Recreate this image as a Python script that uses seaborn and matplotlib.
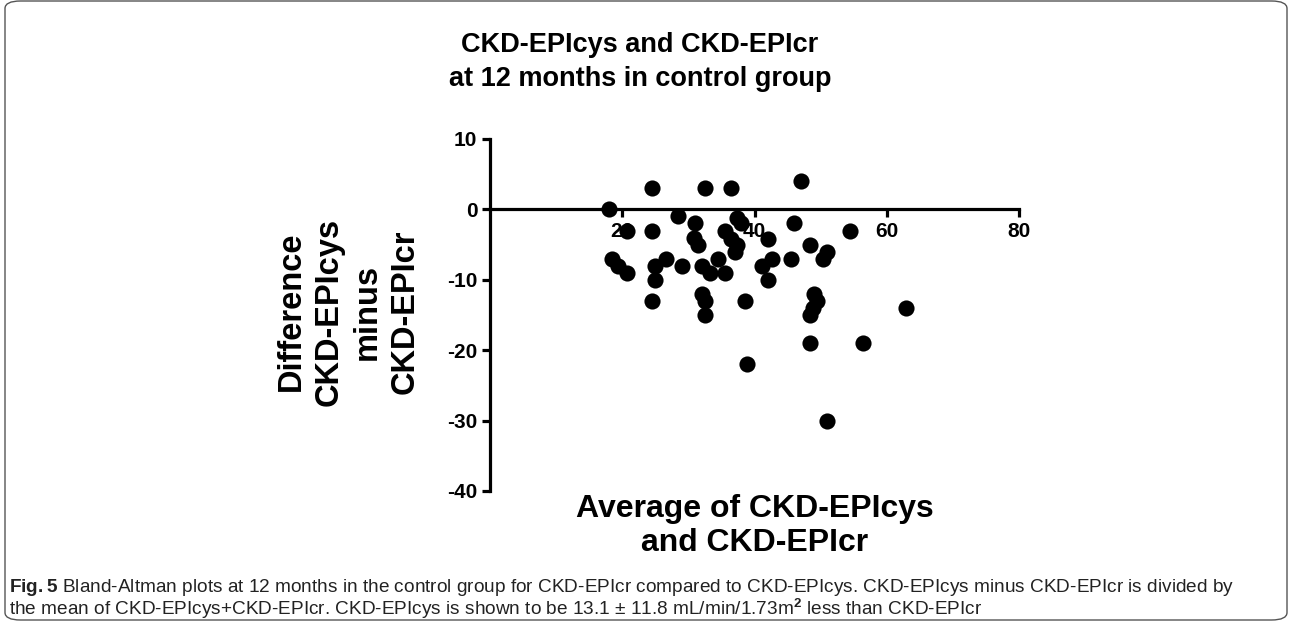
# Bland-Altman scatter: CKD-EPIcys vs CKD-EPIcr at 12 months, control group
import matplotlib
matplotlib.use("Agg")
import pandas as pd
import seaborn as sns
import matplotlib.pyplot as plt
from matplotlib.patches import FancyBboxPatch

# values
avg_values = [18.0, 24.5, 32.5, 36.5, 47.0, 28.5, 31.0, 37.3, 38.0, 46.0,
              20.7, 24.5, 35.5, 54.4, 30.9, 36.5, 42.1, 31.5, 37.3, 48.4,
              37.0, 50.9, 18.4, 26.6, 34.5, 42.6, 45.5, 50.4, 19.4, 24.9,
              29.0, 32.0, 41.1, 20.7, 33.3, 35.5, 24.9, 42.1, 24.5, 32.0,
              32.5, 38.5, 49.0, 49.4, 48.9, 48.4, 32.5, 62.9, 48.4, 56.4,
              38.8, 50.9]
diff_values = [0, 3, 3, 3, 4, -1, -2, -1.2, -2, -2,
               -3, -3, -3, -3, -4, -4.2, -4.2, -5, -5, -5,
               -6, -6, -7, -7, -7, -7, -7, -7, -8, -8,
               -8, -8, -8, -9, -9, -9, -10, -10, -13, -12,
               -13, -13, -12, -13, -14, -15, -15, -14, -19, -19,
               -22, -30]
x_ticks = [20, 40, 60, 80]
y_ticks = [10, 0, -10, -20, -30, -40]

df = pd.DataFrame({"avg": avg_values, "diff": diff_values})

sns.set_style("ticks")
plt.rcParams["font.family"] = ["Liberation Sans", "DejaVu Sans"]
plt.rcParams["axes.unicode_minus"] = False
plt.rcParams["mathtext.fontset"] = "custom"
plt.rcParams["mathtext.rm"] = "Liberation Sans"
plt.rcParams["mathtext.bf"] = "Liberation Sans:bold"
plt.rcParams["text.color"] = "black"
plt.rcParams["axes.labelcolor"] = "black"
plt.rcParams["xtick.color"] = "black"
plt.rcParams["ytick.color"] = "black"

fig = plt.figure(figsize=(12.93, 6.24), dpi=100)
ax = fig.add_axes([490 / 1293, 1 - 491 / 624, 529 / 1293, 352 / 624])

sns.scatterplot(data=df, x="avg", y="diff", color="black", s=135,
                edgecolor="black", linewidth=0, zorder=3, ax=ax)

# x axis sits at y = 0 (do this before styling ticks, it resets them)
ax.spines["bottom"].set_position(("data", 0))
ax.spines["top"].set_visible(False)
ax.spines["right"].set_visible(False)
for s in ["left", "bottom"]:
    ax.spines[s].set_linewidth(2.3)
    ax.spines[s].set_color("black")

ax.set_xlim(0, 80)
ax.set_ylim(-40, 10)
ax.set_xticks(x_ticks)
ax.set_yticks(y_ticks)
ax.set_xticklabels([str(t) for t in x_ticks], fontsize=15, fontweight="bold")
ax.set_yticklabels([str(t) for t in y_ticks], fontsize=15, fontweight="bold")
ax.tick_params(axis="both", length=6, width=2.3, color="black", pad=3)

ax.set_xlabel("Average of CKD-EPIcys\nand CKD-EPIcr", fontsize=23,
              fontweight="bold", linespacing=1.15)
ax.xaxis.set_label_coords(0.5, -0.1)
ax.xaxis.label.set_va("center")

ax.set_ylabel("Difference\nCKD-EPIcys\nminus\nCKD-EPIcr", fontsize=23.5,
              fontweight="bold", linespacing=1.3)
ax.yaxis.set_label_coords(-0.268, 0.51)
ax.yaxis.label.set_va("center")

# title
fig.text(640 / 1293, 1 - 62 / 624, "CKD-EPIcys and CKD-EPIcr\nat 12 months in control group",
         ha="center", va="center", fontsize=19.5, fontweight="bold", linespacing=1.45)

# caption
fig.text(9 / 1293, 1 - 588 / 624,
         r"$\bf{Fig.5}$ Bland-Altman plots at 12 months in the control group for CKD-EPIcr compared to CKD-EPIcys. "
         "CKD-EPIcys minus CKD-EPIcr is divided by",
         ha="left", va="center", fontsize=13.7, color="#222222")
fig.text(9 / 1293, 1 - 609 / 624,
         "the mean of CKD-EPIcys+CKD-EPIcr. CKD-EPIcys is shown to be 13.1 \u00b1 11.8 mL/min/1.73m"
         r"$^{\bf{2}}$ less than CKD-EPIcr",
         ha="left", va="center", fontsize=13.7, color="#222222")

# rounded frame around the whole figure
frame = FancyBboxPatch((5 / 1293, 4 / 624), 1282 / 1293, 619 / 624,
                       boxstyle="round,pad=0,rounding_size=0.012",
                       transform=fig.transFigure, fill=False,
                       edgecolor="#555555", linewidth=1.0)
fig.patches.append(frame)

fig.savefig("out.png", dpi=100)
